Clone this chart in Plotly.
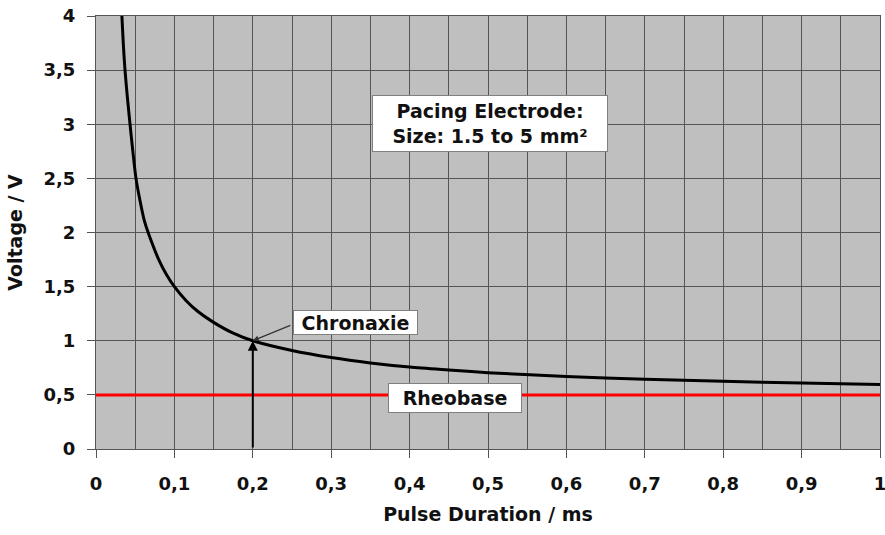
import plotly.graph_objects as go

# Strength-duration curve
pulse_ms = [0.033, 0.035, 0.037, 0.040, 0.0434, 0.047, 0.051, 0.056, 0.062, 0.07, 0.08, 0.09,
            0.1, 0.115, 0.13, 0.15, 0.175, 0.2, 0.25, 0.3, 0.35, 0.4, 0.45, 0.5, 0.6, 0.7,
            0.8, 0.9, 1.0]
voltage_v = [4.0, 3.72, 3.5, 3.25, 3.0, 2.75, 2.5, 2.3, 2.1, 1.93, 1.75, 1.61,
             1.5, 1.37, 1.27, 1.17, 1.07, 1.0, 0.91, 0.845, 0.795, 0.757, 0.73, 0.705, 0.67, 0.645,
             0.625, 0.61, 0.595]

rheobase_x = [0.0, 1.0]
rheobase_v = [0.5, 0.5]

chronaxie_ms = 0.2
chronaxie_v = 1.0

x_ticks = [0, 0.1, 0.2, 0.3, 0.4, 0.5, 0.6, 0.7, 0.8, 0.9, 1.0]
y_ticks = [0, 0.5, 1, 1.5, 2, 2.5, 3, 3.5, 4]

FONT = "DejaVu Sans"
GRID = "#555555"
TXT = "#111111"

fig = go.Figure()
fig.add_trace(go.Scatter(x=rheobase_x, y=rheobase_v, mode="lines",
                         line=dict(color="#ff0000", width=3), showlegend=False, hoverinfo="skip"))
fig.add_trace(go.Scatter(x=pulse_ms, y=voltage_v, mode="lines",
                         line=dict(color="#000000", width=3, shape="spline", smoothing=0.8),
                         showlegend=False))

box = dict(bgcolor="white", bordercolor="#808080", borderwidth=1,
           font=dict(family=FONT, size=19, color=TXT, weight="bold"), showarrow=False)

annotations = [
    # vertical arrow from x-axis up to the chronaxie point
    dict(x=chronaxie_ms, y=chronaxie_v, ax=chronaxie_ms, ay=0, axref="x", ayref="y",
         xref="x", yref="y", text="", showarrow=True, arrowhead=2, arrowsize=1,
         arrowwidth=2, arrowcolor="#000000"),
    # small arrow from the label to the chronaxie point
    dict(x=chronaxie_ms, y=chronaxie_v, ax=39, ay=-16, xref="x", yref="y", text="",
         showarrow=True, arrowhead=2, arrowsize=1, arrowwidth=1.2, arrowcolor="#333333"),
    dict(x=0.331, y=1.169, xref="x", yref="y", text="Chronaxie",
         width=121, height=21, borderpad=1, **box),
    dict(x=0.458, y=0.47, xref="x", yref="y", text="Rheobase",
         width=130, height=26, borderpad=1, **box),
    dict(x=0.5026, y=3.007, xref="x", yref="y",
         text="Pacing Electrode:<br>Size: 1.5 to 5 mm²",
         width=232, height=53, borderpad=1, **box),
]

tickfont = dict(family=FONT, size=18, color=TXT, weight="bold")
titlefont = dict(family=FONT, size=19, color=TXT, weight="bold")

fig.update_layout(
    width=885, height=535,
    margin=dict(l=96, r=5, t=16, b=86),
    paper_bgcolor="white", plot_bgcolor="#bfbfbf",
    separators=",.",
    font=dict(family=FONT, size=18, color=TXT),
    annotations=annotations,
    xaxis=dict(range=[0, 1], tickvals=x_ticks, ticks="outside", ticklen=8, tickcolor=GRID,
               showgrid=True, gridcolor=GRID, gridwidth=1,
               minor=dict(dtick=0.05, tick0=0, showgrid=True, gridcolor=GRID, gridwidth=1, ticks=""),
               showline=True, linecolor=GRID, mirror=True, zeroline=False,
               tickfont=tickfont, ticklabelstandoff=10, ticklabeloverflow="allow",
               automargin=False,
               title=dict(text="Pulse Duration / ms", font=titlefont),
               fixedrange=True),
    yaxis=dict(range=[0, 4], tickvals=y_ticks, ticks="outside", ticklen=8, tickcolor=GRID,
               showgrid=True, gridcolor=GRID, gridwidth=1,
               showline=True, linecolor=GRID, mirror=True, zeroline=False,
               tickfont=tickfont, ticklabelstandoff=8, automargin=False,
               title=dict(text="Voltage / V", font=titlefont),
               fixedrange=True),
)

fig.write_html("out.html")
